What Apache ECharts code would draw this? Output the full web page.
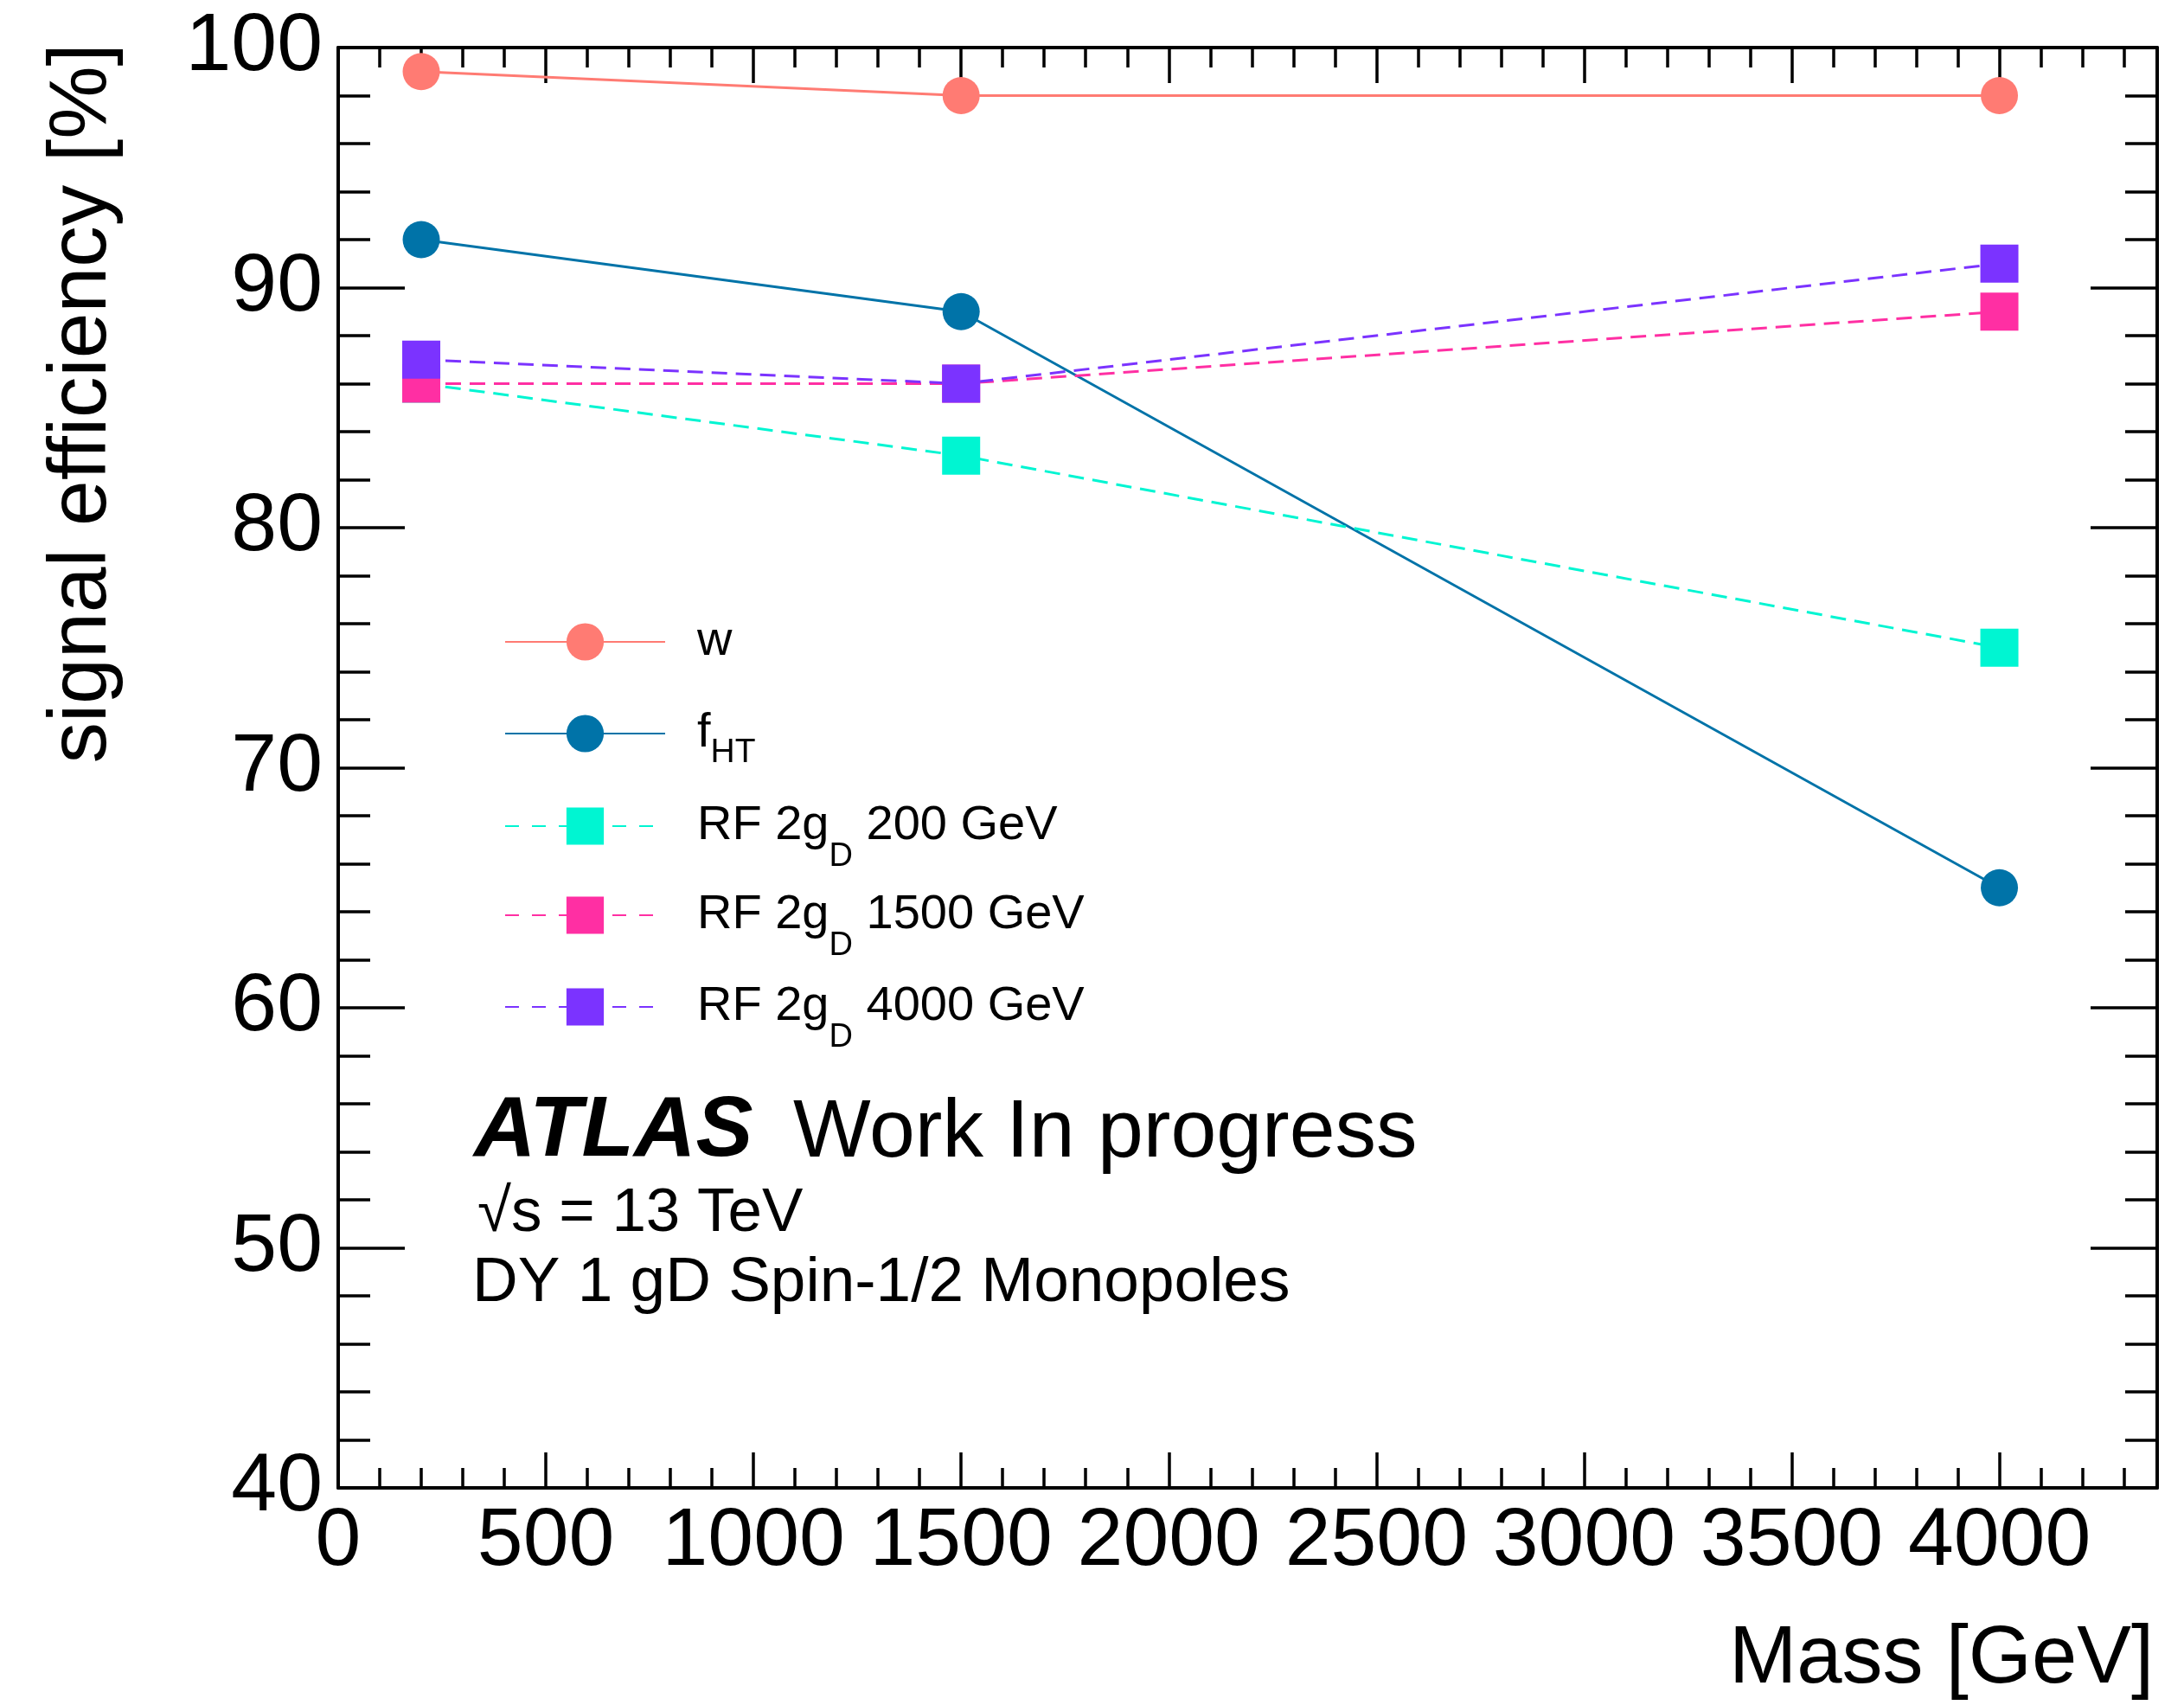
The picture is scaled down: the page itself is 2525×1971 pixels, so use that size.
<!DOCTYPE html>
<html>
<head>
<meta charset="utf-8">
<script src="https://cdn.jsdelivr.net/npm/echarts@6/dist/echarts.min.js"></script>
<style>
html, body {margin: 0; padding: 0; background: #fff;}
#main {width: 2525px; height: 1971px;}
</style>
</head>
<body>
<div id="main"></div>
<script>
// mass points [GeV] and signal efficiencies [%]
var masses = [200, 1500, 4000];
var effW = [99, 98, 98];
var effFHT = [92, 89, 65];
var effRF200 = [86, 83, 75];
var effRF1500 = [86, 86, 89];
var effRF4000 = [87, 86, 91];

var seriesNames = ['w', 'fHT', 'RF 2gD 200 GeV', 'RF 2gD 1500 GeV', 'RF 2gD 4000 GeV'];
var legendLabels = {
    'w': '{m|w}',
    'fHT': '{m|f}{h|HT}',
    'RF 2gD 200 GeV': '{m|RF 2g}{d|D}{m| 200 GeV}',
    'RF 2gD 1500 GeV': '{m|RF 2g}{d|D}{m| 1500 GeV}',
    'RF 2gD 4000 GeV': '{m|RF 2g}{d|D}{m| 4000 GeV}'
};
var colors = ['#ff7b73', '#0073a8', '#00f5d2', '#ff2fa3', '#7b33ff'];

var xMin = 0, xMax = 4380, yMin = 40, yMax = 100;
var FONT = 'Liberation Sans';

var myChart = echarts.init(document.getElementById('main'));

function pts(ys) {
    var out = [];
    for (var i = 0; i < masses.length; i++) {
        out.push([masses[i], ys[i]]);
    }
    return out;
}

function makeSeries(name, ys, color, symbol, dashed) {
    return {
        name: name,
        type: 'line',
        data: pts(ys),
        symbol: symbol,
        symbolSize: symbol == 'circle' ? 43 : 44,
        itemStyle: {color: color},
        lineStyle: {color: color, width: 3, type: dashed ? [18, 10] : 'solid'},
        emphasis: {disabled: true}
    };
}

function xAx(pos, interval, tickLen, main) {
    return {
        type: 'value', position: pos, min: xMin, max: xMax, interval: interval,
        axisLine: {show: main, onZero: false, lineStyle: {color: '#000', width: 4}},
        axisTick: {inside: true, length: tickLen, lineStyle: {color: '#000', width: 3.5}},
        axisLabel: {show: false},
        splitLine: {show: false}
    };
}

function yAx(pos) {
    return {
        type: 'value', position: pos, min: yMin, max: yMax, interval: 10,
        axisLine: {show: true, onZero: false, lineStyle: {color: '#000', width: 4}},
        axisTick: {inside: true, length: 77, lineStyle: {color: '#000', width: 3.5}},
        minorTick: {show: true, splitNumber: 5, length: 37, lineStyle: {color: '#000', width: 3.5}},
        axisLabel: {show: false},
        splitLine: {show: false}
    };
}

var xAxes = [
    xAx('bottom', 500, 41, true),
    xAx('bottom', 100, 23, false),
    xAx('top', 500, 41, true),
    xAx('top', 100, 23, false)
];
xAxes[0].axisLabel = {
    show: true, fontSize: 95, fontFamily: FONT, color: '#000', margin: 15, showMaxLabel: false,
    formatter: function (v) { return String(v); }
};
xAxes[0].name = 'Mass [GeV]';
xAxes[0].nameLocation = 'end';
xAxes[0].nameGap = -4;
xAxes[0].nameTextStyle = {fontSize: 94, fontFamily: FONT, color: '#000', align: 'right', verticalAlign: 'top', padding: [152, 0, 0, 0]};

var yAxes = [yAx('left'), yAx('right')];
yAxes[0].axisLabel = {show: true, fontSize: 95, fontFamily: FONT, color: '#000', margin: 18};

// one legend box per entry so the subscripts do not push the rows apart
var legendRowCenters = [741, 847, 954, 1057, 1163];
var legends = [];
for (var i = 0; i < seriesNames.length; i++) {
    var item = {name: seriesNames[i]};
    if (i >= 2) item.lineStyle = {type: [16, 15]};
    legends.push({
        orient: 'vertical',
        left: 583,
        top: legendRowCenters[i] - 27,
        padding: 0,
        itemWidth: 185,
        itemHeight: 54,
        selectedMode: false,
        formatter: function (name) { return legendLabels[name]; },
        textStyle: {
            fontFamily: FONT, fontSize: 56, color: '#000', lineHeight: 54,
            padding: [0, 0, 0, 32],
            rich: {
                m: {fontFamily: FONT, fontSize: 56, lineHeight: 54, color: '#000'},
                d: {fontFamily: FONT, fontSize: 38, lineHeight: 54, color: '#000', padding: [36, 0, -36, 0]},
                h: {fontFamily: FONT, fontSize: 39, lineHeight: 54, color: '#000', padding: [22, 0, -22, 0]}
            }
        },
        data: [item]
    });
}

myChart.setOption({
    animation: false,
    backgroundColor: '#fff',
    grid: {left: 391, top: 55, right: 31, bottom: 251, containLabel: false, outerBoundsMode: 'none'},
    xAxis: xAxes,
    yAxis: yAxes,
    legend: legends,
    graphic: [
        {
            type: 'text', x: 96, y: 50, rotation: Math.PI / 2,
            style: {text: 'signal efficiency [%]', fontSize: 95, fontFamily: FONT, fill: '#000',
                align: 'right', verticalAlign: 'middle', textAlign: 'right', textVerticalAlign: 'middle'}
        },
        {
            type: 'text', x: 548, y: 1309,
            style: {text: 'ATLAS', fontSize: 99, fontFamily: FONT, fontWeight: 'bold', fontStyle: 'italic', fill: '#000',
                align: 'left', verticalAlign: 'middle', textAlign: 'left', textVerticalAlign: 'middle'}
        },
        {
            type: 'text', x: 917, y: 1311,
            style: {text: 'Work In progress', fontSize: 95, fontFamily: FONT, fill: '#000',
                align: 'left', verticalAlign: 'middle', textAlign: 'left', textVerticalAlign: 'middle'}
        },
        {
            type: 'text', x: 552, y: 1403,
            style: {text: '\u221As = 13 TeV', fontSize: 71, fontFamily: FONT, fill: '#000',
                align: 'left', verticalAlign: 'middle', textAlign: 'left', textVerticalAlign: 'middle'}
        },
        {
            type: 'text', x: 546, y: 1484,
            style: {text: 'DY 1 gD Spin-1/2 Monopoles', fontSize: 73, fontFamily: FONT, fill: '#000',
                align: 'left', verticalAlign: 'middle', textAlign: 'left', textVerticalAlign: 'middle'}
        }
    ],
    series: [
        makeSeries(seriesNames[0], effW, colors[0], 'circle', false),
        makeSeries(seriesNames[1], effFHT, colors[1], 'circle', false),
        makeSeries(seriesNames[2], effRF200, colors[2], 'rect', true),
        makeSeries(seriesNames[3], effRF1500, colors[3], 'rect', true),
        makeSeries(seriesNames[4], effRF4000, colors[4], 'rect', true)
    ]
});
</script>
</body>
</html>
